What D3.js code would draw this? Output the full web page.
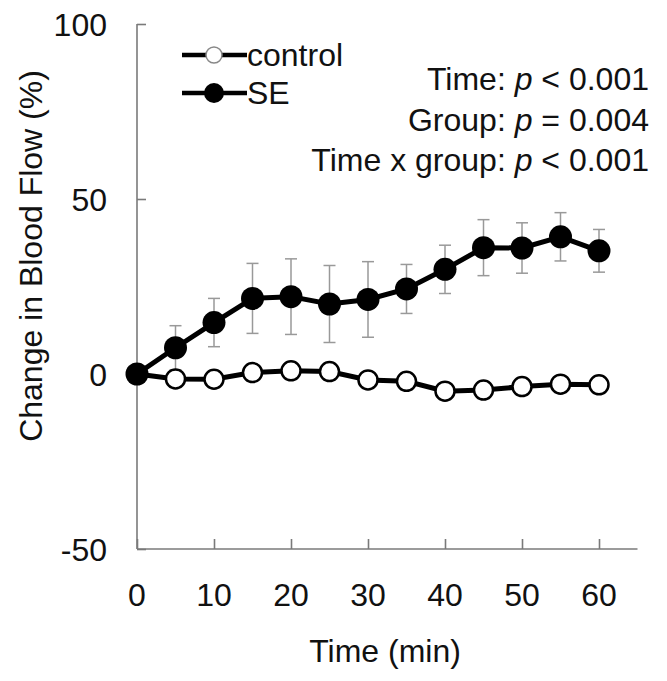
<!DOCTYPE html>
<html><head><meta charset="utf-8">
<script src="https://cdn.jsdelivr.net/npm/d3@7"></script>
<style>html,body{margin:0;padding:0;background:#fff;}svg{display:block;font-family:"Liberation Sans",Arial,sans-serif;}</style>
</head><body>
<svg id="chart" width="667" height="681"></svg>
<script>
const times = [0,5,10,15,20,25,30,35,40,45,50,55,60];
const controlValues = [0,-1.4,-1.5,0.4,0.9,0.7,-1.7,-2.1,-4.9,-4.6,-3.6,-2.9,-3.1];
const seValues = [0,7.5,14.7,21.6,22.1,20,21.3,24.3,29.9,36.1,36,39.2,35.2];
const seErrors = [0,6.3,6.9,10,10.8,11,10.8,7,6.9,8,7.2,6.9,6.1];
const xTicks = [0,10,20,30,40,50,60];
const yTicks = [-50,0,50,100];
const statLines = [["Time: ","p"," < 0.001"],["Group: ","p"," = 0.004"],["Time x group: ","p"," < 0.001"]];
const legendItems = [{name:"control",filled:false},{name:"SE",filled:true}];

const svg = d3.select("#chart");
const x = d3.scaleLinear().domain([0,65]).range([137,637.5]);
const y = d3.scaleLinear().domain([-50,100]).range([549,24]);
const axisColor = "#7a7a7a";
const fs = 32;

// y axis
const gy = svg.append("g").attr("transform","translate(137,0)")
  .call(d3.axisRight(y).tickValues(yTicks).tickSize(9).tickFormat(""));
gy.select(".domain").attr("stroke",axisColor).attr("stroke-width",1.6).attr("d","M0,24V549");
gy.selectAll(".tick line").attr("stroke",axisColor).attr("stroke-width",1.6);
svg.append("g").selectAll("text").data(yTicks).join("text")
  .attr("x",107).attr("y",d=>y(d)).attr("dy","0.36em").attr("text-anchor","end")
  .attr("font-size",fs).attr("fill","#111").text(d=>d);

// x axis
const gx = svg.append("g").attr("transform","translate(0,549)")
  .call(d3.axisTop(x).tickValues(xTicks).tickSize(10).tickFormat(""));
gx.select(".domain").attr("stroke",axisColor).attr("stroke-width",1.6).attr("d","M137,0H637.5");
gx.selectAll(".tick line").attr("stroke",axisColor).attr("stroke-width",1.6);
svg.append("g").selectAll("text").data(xTicks).join("text")
  .attr("x",d=>x(d)).attr("y",606).attr("text-anchor","middle")
  .attr("font-size",fs).attr("fill","#111").text(d=>d);

// titles
svg.append("text").attr("x",385).attr("y",662).attr("text-anchor","middle")
  .attr("font-size",fs).attr("fill","#111").text("Time (min)");
svg.append("text").attr("transform","translate(42,256) rotate(-90)").attr("text-anchor","middle")
  .attr("font-size",fs).attr("fill","#111").text("Change in Blood Flow (%)");

// error bars (SE)
const eb = svg.append("g").attr("stroke","#999").attr("stroke-width",1.5);
times.forEach((t,i)=>{
  if(!seErrors[i]) return;
  const cx=x(t), y1=y(seValues[i]+seErrors[i]), y2=y(seValues[i]-seErrors[i]);
  eb.append("line").attr("x1",cx).attr("x2",cx).attr("y1",y1).attr("y2",y2);
  eb.append("line").attr("x1",cx-6).attr("x2",cx+6).attr("y1",y1).attr("y2",y1);
  eb.append("line").attr("x1",cx-6).attr("x2",cx+6).attr("y1",y2).attr("y2",y2);
});

const line = d3.line().x(d=>x(d[0])).y(d=>y(d[1]));
const ctrl = times.map((t,i)=>[t,controlValues[i]]);
const se = times.map((t,i)=>[t,seValues[i]]);

svg.append("path").datum(ctrl).attr("d",line).attr("fill","none").attr("stroke","#000").attr("stroke-width",5);
svg.append("g").selectAll("circle").data(ctrl).join("circle")
  .attr("cx",d=>x(d[0])).attr("cy",d=>y(d[1])).attr("r",9.5)
  .attr("fill","#fff").attr("stroke","#000").attr("stroke-width",2.5);

svg.append("path").datum(se).attr("d",line).attr("fill","none").attr("stroke","#000").attr("stroke-width",5);
svg.append("g").selectAll("circle").data(se).join("circle")
  .attr("cx",d=>x(d[0])).attr("cy",d=>y(d[1])).attr("r",11.5).attr("fill","#000");

// legend
const lg = svg.append("g");
legendItems.forEach((it,i)=>{
  const ly = 55 + i*38;
  lg.append("line").attr("x1",182).attr("x2",247).attr("y1",ly).attr("y2",ly).attr("stroke","#000").attr("stroke-width",4.5);
  lg.append("circle").attr("cx",214).attr("cy",ly).attr("r",it.filled?10:8)
    .attr("fill",it.filled?"#000":"#fff").attr("stroke",it.filled?"#000":"#888").attr("stroke-width",it.filled?0:1.5);
  lg.append("text").attr("x",247).attr("y",ly+11).attr("font-size",fs).attr("fill","#111").text(it.name);
});

// stats
const st = svg.append("g");
statLines.forEach((parts,i)=>{
  const t = st.append("text").attr("x",649).attr("y",90+i*40.5).attr("text-anchor","end")
    .attr("font-size",fs).attr("fill","#111");
  t.append("tspan").text(parts[0]);
  t.append("tspan").attr("font-style","italic").text(parts[1]);
  t.append("tspan").text(parts[2]);
});
</script>
</body></html>
